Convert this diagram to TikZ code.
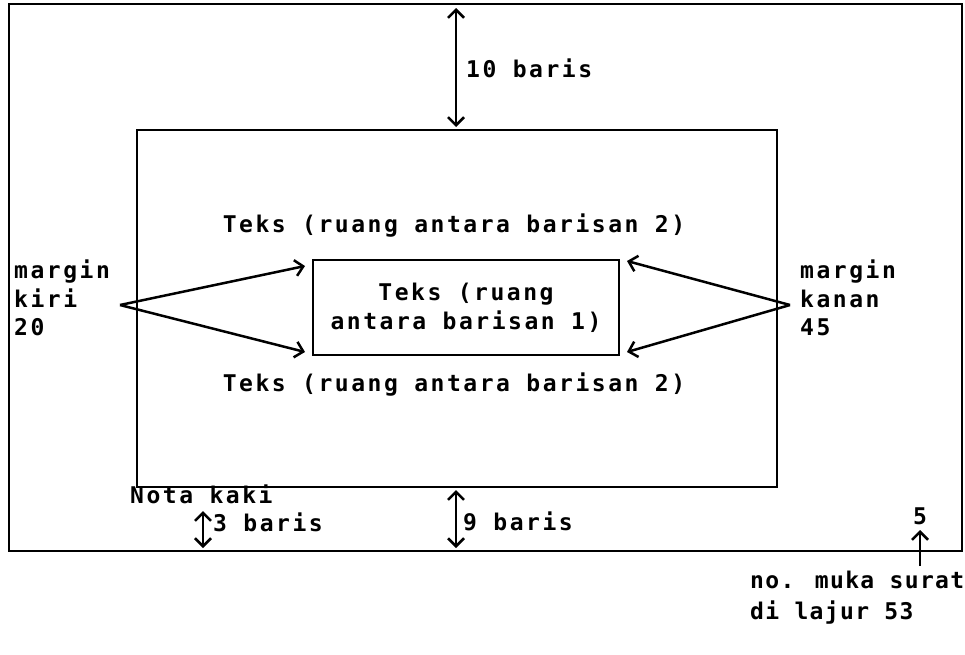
\documentclass[tikz,border=0pt]{standalone}
\usepackage{fontspec}
\setmainfont{DejaVu Sans Mono}[LetterSpace=11,BoldFont={DejaVu Sans Mono Bold}]
\usetikzlibrary{arrows.meta}
\begin{document}
\begin{tikzpicture}[x=1pt,y=-1pt,
  frame/.style={draw, line width=2.5pt, inner sep=0pt},
  lbl/.style={font=\fontsize{23}{28.5}\selectfont\bfseries, inner sep=0pt, align=left},
  clbl/.style={font=\fontsize{23}{28.5}\selectfont\bfseries, inner sep=0pt, align=center},
  arr/.style={line width=2.5pt, -{Straight Barb[length=8pt,width=16pt,line width=2.5pt]}},
  darr/.style={line width=2.5pt, {Straight Barb[length=8pt,width=16pt,line width=2.5pt]}-{Straight Barb[length=8pt,width=16pt,line width=2.5pt]}}
]
\useasboundingbox (0,0) rectangle (965,654);
\node[frame, minimum width=953pt, minimum height=547pt] (outer) at (485.5,277.5) {};
\node[frame, minimum width=640pt, minimum height=357pt] (inner) at (457,308.5) {};
\node[frame, line width=2.2pt, minimum width=306pt, minimum height=95pt] (box) at (466,307.5) {};

% texts
\node[lbl, anchor=west] (t10) at (466,68) {10 baris};
\node[clbl] (ttop) at (454,226) {Teks (ruang antara barisan 2)};
\node[clbl] (tbox) at (466,308) {Teks (ruang\\antara barisan 1)};
\node[clbl] (tbot) at (454,385) {Teks (ruang antara barisan 2)};
\node[lbl, anchor=west] (mkiri) at (14,298) {margin\\kiri\\20};
\node[lbl, anchor=west] (mkanan) at (800,298) {margin\\kanan\\45};
\node[lbl, anchor=west] (nota) at (130,494) {Nota kaki};
\node[lbl, anchor=west] (t3) at (213,522) {3 baris};
\node[lbl, anchor=west] (t9) at (463,521) {9 baris};
\node[clbl] (t5) at (920,516) {5};
\node[lbl, anchor=west, font=\fontsize{23}{31}\selectfont\bfseries\addfontfeatures{LetterSpace=6}] (nomuka) at (750,598) {no. muka surat\\di lajur 53};

% connector points
\coordinate (a10top) at (456,8);
\coordinate (a10bot) at (456,127);
\coordinate (a9top) at (456,490);
\coordinate (a9bot) at (456,548);
\coordinate (a3top) at (203,511);
\coordinate (a3bot) at (203,548);
\coordinate (a5tail) at (920,566);
\coordinate (a5tip) at (920,530);
\coordinate (lsrc) at (120,305);
\coordinate (lup) at (305,266);
\coordinate (ldn) at (305,352);
\coordinate (rsrc) at (790,305);
\coordinate (rup) at (627,261);
\coordinate (rdn) at (627,352);

\draw[darr] (a10top) -- (a10bot);
\draw[darr] (a9top) -- (a9bot);
\draw[darr] (a3top) -- (a3bot);
\draw[arr] (a5tail) -- (a5tip);
\draw[arr] (lsrc) -- (lup);
\draw[arr] (lsrc) -- (ldn);
\draw[arr] (rsrc) -- (rup);
\draw[arr] (rsrc) -- (rdn);
\end{tikzpicture}
\end{document}
